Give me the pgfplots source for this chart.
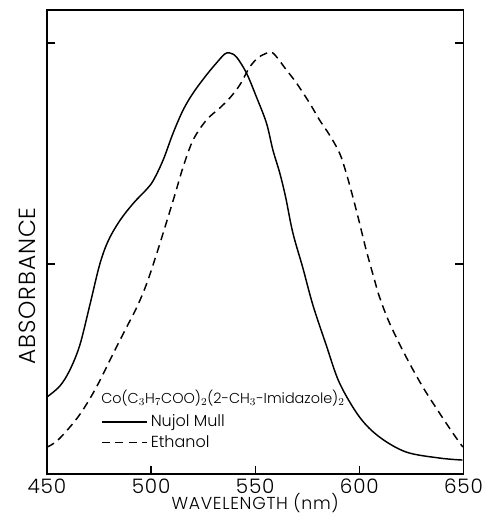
\documentclass[border=0pt]{standalone}
\usepackage{fontspec}
\setmainfont{Poppins}[UprightFont=* Light]
\usepackage{pgfplots}
\pgfplotsset{compat=1.18}
\newcommand{\tickfont}{\fontsize{15}{17}\selectfont\addfontfeatures{LetterSpace=4}}
\newcommand{\xlabfont}{\fontsize{13}{15}\selectfont\addfontfeatures{LetterSpace=4}}
\newcommand{\ylabfont}{\fontsize{17.5}{19}\selectfont\addfontfeatures{LetterSpace=4}}
\begin{document}
\begin{tikzpicture}
\begin{axis}[
  scale only axis, width=312.75pt, height=348pt,
  xmin=450, xmax=650, ymin=0, ymax=464,
  xtick={450,500,550,600,650}, xtick pos=left,
  ytick={210,431}, yticklabels={},
  tick align=inside, major tick length=6pt,
  axis line style={line width=1.1pt},
  tick style={line width=0.9pt, black},
  /pgf/number format/assume math mode=true,
  /pgf/number format/1000 sep={},
  xticklabel style={font=\tickfont, anchor=base, yshift=-14.25pt},
  xlabel={WAVELENGTH (nm)},
  ylabel={ABSORBANCE},
  xlabel style={font=\xlabfont, at={(axis description cs:0.5,0)}, anchor=base, yshift=-26.8pt},
  ylabel style={font=\ylabfont, at={(axis description cs:0,0.405)}, anchor=center, yshift=15pt},
  clip=false,
  legend cell align=left,
  legend style={draw=none, fill=none, font=\fontsize{12}{14}\selectfont,
    at={(axis cs:476,62)}, anchor=north west, inner sep=0pt,
    row sep=1pt, /tikz/every even column/.append style={column sep=0pt}},
  legend image code/.code={\draw[#1] (0pt,0pt) -- (34pt,0pt);},
]
\addplot[black, line width=1.1pt, smooth, tension=0.55] coordinates {
(450.0,77) (456.2,88) (461.0,104) (465.8,129) (470.6,169) (475.4,210)
(479.6,234) (485.2,254) (491.6,271) (498.0,285) (501.2,294) (505.8,314)
(510.6,341) (515.4,364) (520.2,381) (526.6,399) (531.4,411) (535.4,420)
(537.8,421) (541.0,417) (545.8,401) (550.6,377) (555.4,351) (558.5,324)
(561.8,301) (564.6,277) (568.1,241) (572.9,206) (577.7,169) (584.1,129)
(590.5,91) (600.1,57) (609.7,37) (622.5,22) (638.5,16) (649.5,14)
};
\addlegendentry{Nujol Mull}
\addplot[black, line width=1.1pt, smooth, tension=0.55, dash pattern=on 6pt off 4pt] coordinates {
(450.0,27) (455.3,34) (464.9,57) (473.0,84) (481.0,117) (486.8,141)
(493.2,167) (498.0,191) (502.8,221) (506.7,247) (511.4,279) (515.4,307)
(520.2,334) (526.6,354) (533.0,366) (537.8,376) (542.6,389) (547.4,407)
(551.3,416) (554.6,420) (558.5,421) (565.0,404) (569.8,391) (576.1,371)
(580.9,354) (585.7,339) (590.5,321) (593.7,301) (596.9,277) (600.1,251)
(603.3,224) (607.3,194) (609.7,177) (614.5,151) (622.5,117) (630.5,87)
(638.5,61) (644.9,41) (649.7,27)
};
\addlegendentry{Ethanol}
\node[anchor=west, inner sep=0pt, font=\fontsize{10.8}{13}\selectfont] at (axis cs:476,76)
  {Co(C$_3$H$_7$COO)$_2$(2-CH$_3$-Imidazole)$_2$};
\coordinate (bl) at (rel axis cs:0,0);
\coordinate (tr) at (rel axis cs:1,1);
\end{axis}
\pgfresetboundingbox
\path ([shift={(-35.25pt,-30.75pt)}]bl) rectangle ([shift={(16.5pt,7.5pt)}]tr);
\end{tikzpicture}
\end{document}
